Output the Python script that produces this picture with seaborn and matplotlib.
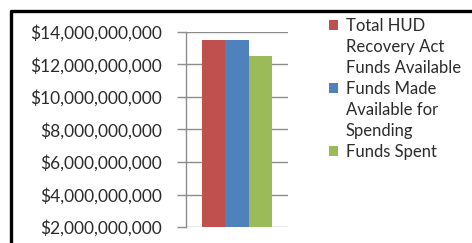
import matplotlib
matplotlib.use("Agg")
import matplotlib.pyplot as plt
import matplotlib.patches as mpatches
import matplotlib.lines as mlines
import matplotlib.ticker as mticker
import pandas as pd
import seaborn as sns

# data
series = ["Total HUD\nRecovery Act\nFunds Available",
          "Funds Made\nAvailable for\nSpending",
          "Funds Spent"]
amounts = [13.5e9, 13.5e9, 12.5e9]
colors = ["#C0504D", "#4F81BD", "#9BBB59"]
y_ticks = [2e9, 4e9, 6e9, 8e9, 10e9, 12e9, 14e9]

df = pd.DataFrame({"group": [""] * len(series), "series": series, "amount": amounts})

sns.set_theme(style="white")
plt.rcParams["font.family"] = ["Lato", "DejaVu Sans"]

W, H = 472, 243
fig = plt.figure(figsize=(W / 100, H / 100), dpi=100)
fig.patch.set_facecolor("white")
ax = fig.add_axes([186 / W, (H - 227) / H, 102 / W, (227 - 32) / H])

sns.barplot(data=df, x="group", y="amount", hue="series", palette=colors,
            width=0.68, saturation=1, legend=False, linewidth=0, ax=ax)

grid_col = "#8c8c8c"
txt_col = "#2b2b2b"
ax.set_xlim(-0.5, 0.5)
ax.set_ylim(y_ticks[0], y_ticks[-1])
ax.set_yticks(y_ticks)
ax.yaxis.set_major_formatter(mticker.FuncFormatter(lambda v, _: f"${v:,.0f}"))
ax.set_xticks([])
ax.set_xlabel("")
ax.set_ylabel("")
ax.yaxis.grid(True, color=grid_col, lw=1)
ax.set_axisbelow(True)
for s in ["top", "right", "bottom"]:
    ax.spines[s].set_visible(False)
ax.spines["left"].set_color(grid_col)
ax.spines["left"].set_linewidth(1)
ax.tick_params(axis="y", left=True, length=6.5, width=1, color=grid_col,
               pad=11, labelsize=12.5, labelcolor=txt_col)

# legend: square only on the first line of each entry
handles, labels = [], []
for name, col in zip(series, colors):
    for i, line in enumerate(name.split("\n")):
        if i == 0:
            handles.append(mpatches.Patch(facecolor=col, edgecolor="none"))
        else:
            handles.append(mpatches.Patch(facecolor="none", edgecolor="none"))
        labels.append(line)
fig.legend(handles, labels, loc="upper left", bbox_to_anchor=(329 / W, 1 - 18 / H),
           frameon=False, fontsize=12, handlelength=0.55, handleheight=0.55,
           handletextpad=0.45, labelspacing=0.3, borderpad=0, borderaxespad=0,
           labelcolor=txt_col)

# outer frame of the cropped chart
fig.add_artist(mlines.Line2D([10.5 / W, 10.5 / W, 1.01], [-0.01, 1 - 11 / H, 1 - 11 / H],
                             transform=fig.transFigure, color="black", lw=2.4))

fig.savefig("out.png", dpi=100)
